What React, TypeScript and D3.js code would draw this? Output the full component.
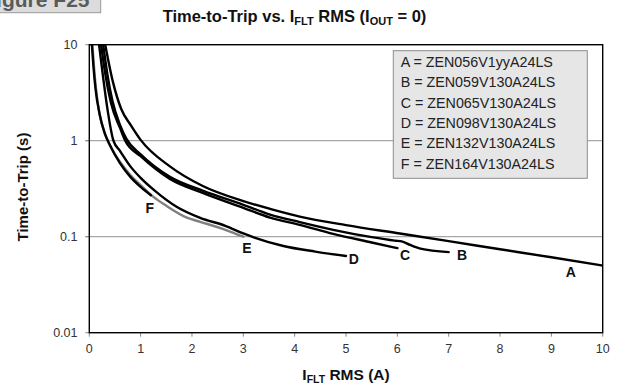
import React from 'react';
import * as d3 from 'd3';

const W = 618;
const H = 389;

// ---- data ----
const xTickValues = [0, 1, 2, 3, 4, 5, 6, 7, 8, 9, 10];
const yTickValues = [10, 1, 0.1, 0.01];
const yTickLabels = ['10', '1', '0.1', '0.01'];
const gridValues = [1, 0.1];

const seriesNames = ['A', 'B', 'C', 'D', 'E', 'F'];
const legendLabels = [
  'A = ZEN056V1yyA24LS',
  'B = ZEN059V130A24LS',
  'C = ZEN065V130A24LS',
  'D = ZEN098V130A24LS',
  'E = ZEN132V130A24LS',
  'F = ZEN164V130A24LS',
];

// [I_FLT (A), time (s)]
const curveA: [number, number][] = [
  [0.31, 10], [0.46, 4.1], [0.62, 2.15], [0.82, 1.42], [1.0, 1.02], [1.57, 0.54],
  [2.22, 0.335], [3.0, 0.235], [3.52, 0.195], [4.1, 0.162], [5.0, 0.132],
  [6.05, 0.108], [7.0, 0.09], [8.0, 0.074], [9.0, 0.061], [10.0, 0.05],
];
const curveB: [number, number][] = [
  [0.27, 10], [0.35, 5], [0.45, 2.6], [0.6, 1.45], [0.72, 1.05], [1.0, 0.72],
  [1.57, 0.42], [2.22, 0.3], [3.0, 0.215], [3.52, 0.17], [4.1, 0.142], [4.75, 0.118],
  [5.5, 0.099], [5.95, 0.091], [6.1, 0.089], [6.25, 0.082], [6.45, 0.075], [7.0, 0.069],
];
const curveC: [number, number][] = [
  [0.23, 10], [0.31, 5], [0.42, 2.5], [0.6, 1.35], [0.7, 1.0], [1.0, 0.69],
  [1.57, 0.4], [2.22, 0.285], [3.0, 0.2], [3.52, 0.158], [4.1, 0.133], [4.75, 0.107],
  [5.5, 0.087], [6.0, 0.076],
];
const curveD: [number, number][] = [
  [0.19, 10], [0.26, 5], [0.35, 2.2], [0.47, 1.0], [0.6, 0.78], [0.8, 0.54],
  [1.0, 0.41], [1.28, 0.3], [1.7, 0.205], [2.16, 0.157], [2.65, 0.13], [3.0, 0.108],
  [3.78, 0.08], [4.4, 0.07], [5.0, 0.063],
];
const curveE: [number, number][] = [
  [0.06, 10], [0.09, 6], [0.13, 3.5], [0.2, 1.9], [0.3, 1.2], [0.4, 0.9], [0.6, 0.6],
  [0.8, 0.44], [1.0, 0.345], [1.25, 0.26], [1.5, 0.21], [1.9, 0.158], [2.16, 0.143],
  [2.65, 0.118], [3.0, 0.1],
];
const curveF: [number, number][] = [
  [0.05, 10], [0.08, 6], [0.12, 3.5], [0.2, 1.9], [0.3, 1.2], [0.4, 0.9], [0.6, 0.58],
  [0.8, 0.42], [1.0, 0.33], [1.2, 0.27],
];
const curves = [curveA, curveB, curveC, curveD, curveE, curveF];
const curveColors = ['#000', '#000', '#000', '#000', '#808080', '#000'];

// label anchors in data units
const labelAnchors: [number, number][] = [
  [9.38, 0.0428], [7.26, 0.0645], [6.15, 0.0645], [5.15, 0.0586], [3.07, 0.0762], [1.18, 0.197],
];

export default function App() {
  const left = 89.3, right = 602.7, top = 44.7, bottom = 332.7;
  const x = d3.scaleLinear().domain([0, 10]).range([left, right]);
  const y = d3.scaleLog().domain([0.01, 10]).range([bottom, top]);
  const line = d3
    .line<[number, number]>()
    .x((d) => x(d[0]))
    .y((d) => y(d[1]))
    .curve(d3.curveMonotoneX);

  const font = '"Liberation Sans", Arial, Helvetica, sans-serif';
  const legX = 393.3, legY = 50.7, legW = 194, legH = 127.6;

  // draw order: E (grey) below, others on top
  const order = [4, 0, 1, 2, 3, 5];

  return (
    <svg
      width={W}
      height={H}
      viewBox={`0 0 ${W} ${H}`}
      style={{ position: 'absolute', left: 0, top: 0, background: '#fff' }}
      fontFamily={font}
    >
      <defs>
        <clipPath id="plotClip">
          <rect x={left} y={top} width={right - left} height={bottom - top} />
        </clipPath>
      </defs>
      <rect x={0} y={0} width={W} height={H} fill="#fff" />

      {/* Figure tag */}
      <rect x={-2} y={-2} width={102.7} height={14.7} fill="#dcdcdc" stroke="#9a9a9a" strokeWidth={1} />
      <text x={89.5} y={7} textAnchor="end" fontSize={21} fontWeight="bold" fill="#5a5a5a">
        Figure F25
      </text>

      {/* Title */}
      <text x={294.5} y={21.5} textAnchor="middle" fontSize={16.5} fontWeight="bold" fill="#111">
        Time-to-Trip vs. I
        <tspan fontSize={11} dy={3}>FLT</tspan>
        <tspan dy={-3}> RMS (I</tspan>
        <tspan fontSize={11} dy={3}>OUT</tspan>
        <tspan dy={-3}> = 0)</tspan>
      </text>

      {/* gridlines */}
      {gridValues.map((v) => (
        <line key={v} x1={left - 4} x2={right} y1={y(v)} y2={y(v)} stroke="#a6a6a6" strokeWidth={1.2} />
      ))}
      {/* y ticks */}
      {yTickValues.map((v) => (
        <line key={'yt' + v} x1={left - 4} x2={left} y1={y(v)} y2={y(v)} stroke="#888" strokeWidth={1} />
      ))}
      {yTickValues.map((v, i) => (
        <text key={'yl' + v} x={77.5} y={y(v)} dy="0.35em" textAnchor="end" fontSize={12.5} fill="#333">
          {yTickLabels[i]}
        </text>
      ))}
      {/* x ticks */}
      {xTickValues.map((v) => (
        <line key={'xt' + v} x1={x(v)} x2={x(v)} y1={bottom} y2={bottom + 4} stroke="#888" strokeWidth={1} />
      ))}
      {xTickValues.map((v) => (
        <text key={'xl' + v} x={x(v)} y={352.5} textAnchor="middle" fontSize={12.5} fill="#333">
          {v}
        </text>
      ))}

      {/* legend */}
      <rect x={legX} y={legY} width={legW} height={legH} fill="#e6e6e6" stroke="#8c8c8c" strokeWidth={1} />
      {legendLabels.map((s, i) => (
        <text key={s} x={400.7} y={66.7 + i * 20.4} fontSize={14.3} fill="#222">
          {s}
        </text>
      ))}

      {/* curves */}
      <g clipPath="url(#plotClip)">
        {order.map((i) => (
          <path
            key={seriesNames[i]}
            d={line(curves[i]) || ''}
            fill="none"
            stroke={curveColors[i]}
            strokeWidth={2.4}
            strokeLinejoin="round"
            strokeLinecap="round"
          />
        ))}
      </g>

      {/* frame */}
      <rect x={left} y={top} width={right - left} height={bottom - top} fill="none" stroke="#000" strokeWidth={1.4} />

      {/* curve labels */}
      {labelAnchors.map((p, i) => (
        <text
          key={'lab' + i}
          x={x(p[0])}
          y={y(p[1])}
          dy="0.36em"
          textAnchor="middle"
          fontSize={14}
          fontWeight="bold"
          fill="#111"
        >
          {seriesNames[i]}
        </text>
      ))}

      {/* axis titles */}
      <text x={346} y={380} textAnchor="middle" fontSize={15.5} fontWeight="bold" fill="#111">
        I<tspan fontSize={10.5} dy={3}>FLT</tspan>
        <tspan dy={-3}> RMS (A)</tspan>
      </text>
      <text
        transform="translate(28,187) rotate(-90)"
        textAnchor="middle"
        fontSize={15}
        fontWeight="bold"
        fill="#111"
      >
        Time-to-Trip (s)
      </text>
    </svg>
  );
}
